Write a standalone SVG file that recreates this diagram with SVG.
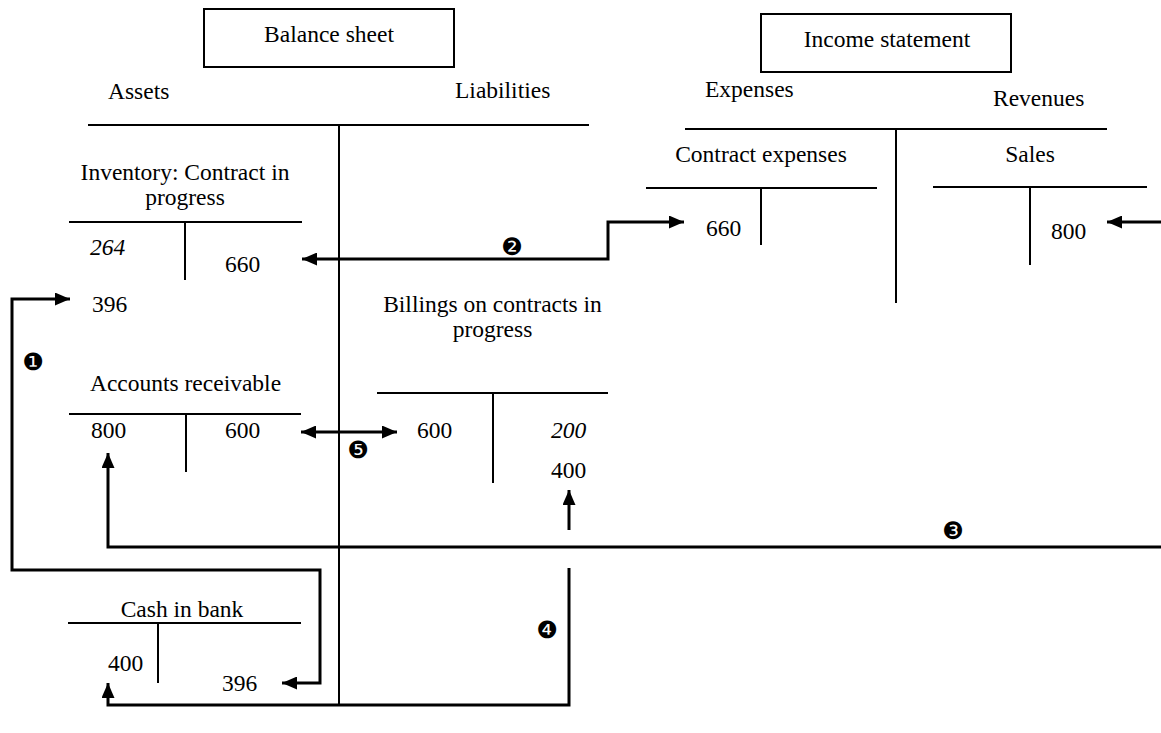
<svg xmlns="http://www.w3.org/2000/svg" width="1161" height="733" viewBox="0 0 1161 733">
  <style>
    text { font-family: "Liberation Serif", "Times New Roman", serif; font-size: 23.5px; fill: #000; }
    .mid { text-anchor: middle; }
    .it { font-style: italic; }
    .num { font-family: "DejaVu Sans", sans-serif; font-size: 24px; text-anchor: middle; dominant-baseline: central; }
    .rule { stroke: #000; stroke-width: 2; fill: none; }
    .box { stroke: #000; stroke-width: 2; fill: #fff; }
    .flow { stroke: #000; stroke-width: 3; fill: none; stroke-linejoin: miter; }
  </style>
  <defs>
    <marker id="head" viewBox="0 0 15 13" refX="15" refY="6.5" markerWidth="15" markerHeight="13" markerUnits="userSpaceOnUse" orient="auto-start-reverse">
      <path d="M0,0 L15,6.5 L0,13 Z" fill="#000"/>
    </marker>
  </defs>

  <!-- Balance sheet frame -->
  <g id="balance-sheet">
    <rect class="box" x="204" y="9" width="250" height="58"/>
    <text class="mid" x="329" y="42">Balance sheet</text>
    <text x="108" y="99">Assets</text>
    <text x="455" y="98">Liabilities</text>
    <line class="rule" x1="88" y1="125" x2="589" y2="125"/>
    <line class="rule" x1="339" y1="125" x2="339" y2="705"/>
  </g>

  <!-- Income statement frame -->
  <g id="income-statement">
    <rect class="box" x="761" y="14" width="250" height="58"/>
    <text class="mid" x="887" y="47">Income statement</text>
    <text x="705" y="97">Expenses</text>
    <text x="993" y="106">Revenues</text>
    <line class="rule" x1="685" y1="129" x2="1107" y2="129"/>
    <line class="rule" x1="896" y1="129" x2="896" y2="303"/>
  </g>

  <!-- T-accounts -->
  <g id="inventory">
    <text class="mid" x="185" y="180">Inventory: Contract in</text>
    <text class="mid" x="185" y="205">progress</text>
    <line class="rule" x1="69" y1="222" x2="302" y2="222"/>
    <line class="rule" x1="185" y1="222" x2="185" y2="280"/>
    <text class="it" x="90" y="255">264</text>
    <text x="225" y="272">660</text>
    <text x="92" y="312">396</text>
  </g>

  <g id="accounts-receivable">
    <text class="mid" x="185.5" y="391">Accounts receivable</text>
    <line class="rule" x1="69" y1="414" x2="301" y2="414"/>
    <line class="rule" x1="186" y1="414" x2="186" y2="472"/>
    <text x="91" y="438">800</text>
    <text x="225" y="438">600</text>
  </g>

  <g id="billings">
    <text class="mid" x="492.5" y="312">Billings on contracts in</text>
    <text class="mid" x="492.5" y="337">progress</text>
    <line class="rule" x1="377" y1="393" x2="608" y2="393"/>
    <line class="rule" x1="493" y1="393" x2="493" y2="483"/>
    <text x="417" y="438">600</text>
    <text class="it" x="551" y="438">200</text>
    <text x="551" y="478">400</text>
  </g>

  <g id="cash">
    <text class="mid" x="182" y="617">Cash in bank</text>
    <line class="rule" x1="68" y1="623" x2="301" y2="623"/>
    <line class="rule" x1="158" y1="623" x2="158" y2="683"/>
    <text x="108" y="671">400</text>
    <text x="222" y="691">396</text>
  </g>

  <g id="contract-expenses">
    <text class="mid" x="761" y="162">Contract expenses</text>
    <line class="rule" x1="646" y1="188" x2="877" y2="188"/>
    <line class="rule" x1="761" y1="188" x2="761" y2="245"/>
    <text x="706" y="236">660</text>
  </g>

  <g id="sales">
    <text class="mid" x="1030" y="162">Sales</text>
    <line class="rule" x1="933" y1="187" x2="1147" y2="187"/>
    <line class="rule" x1="1030" y1="187" x2="1030" y2="265"/>
    <text x="1051" y="239">800</text>
  </g>

  <!-- Posting flows -->
  <g id="connectors">
    <path class="flow" d="M70,299 H12 V570 H320 V683 H282" marker-start="url(#head)" marker-end="url(#head)"/>
    <text class="num" x="33" y="362">❶</text>

    <path class="flow" d="M302,259 H608 V222 H684" marker-start="url(#head)" marker-end="url(#head)"/>
    <text class="num" x="512" y="247">❷</text>

    <path class="flow" d="M1161,222 H1107" marker-end="url(#head)"/>
    <path class="flow" d="M1161,547 H108 V453" marker-end="url(#head)"/>
    <text class="num" x="953" y="531">❸</text>

    <path class="flow" d="M569,530 V490" marker-end="url(#head)"/>
    <path class="flow" d="M569,568 V705 H108 V683" marker-end="url(#head)"/>
    <text class="num" x="547" y="630">❹</text>

    <path class="flow" d="M301,432 H397" marker-start="url(#head)" marker-end="url(#head)"/>
    <text class="num" x="358" y="450">❺</text>
  </g>
</svg>
